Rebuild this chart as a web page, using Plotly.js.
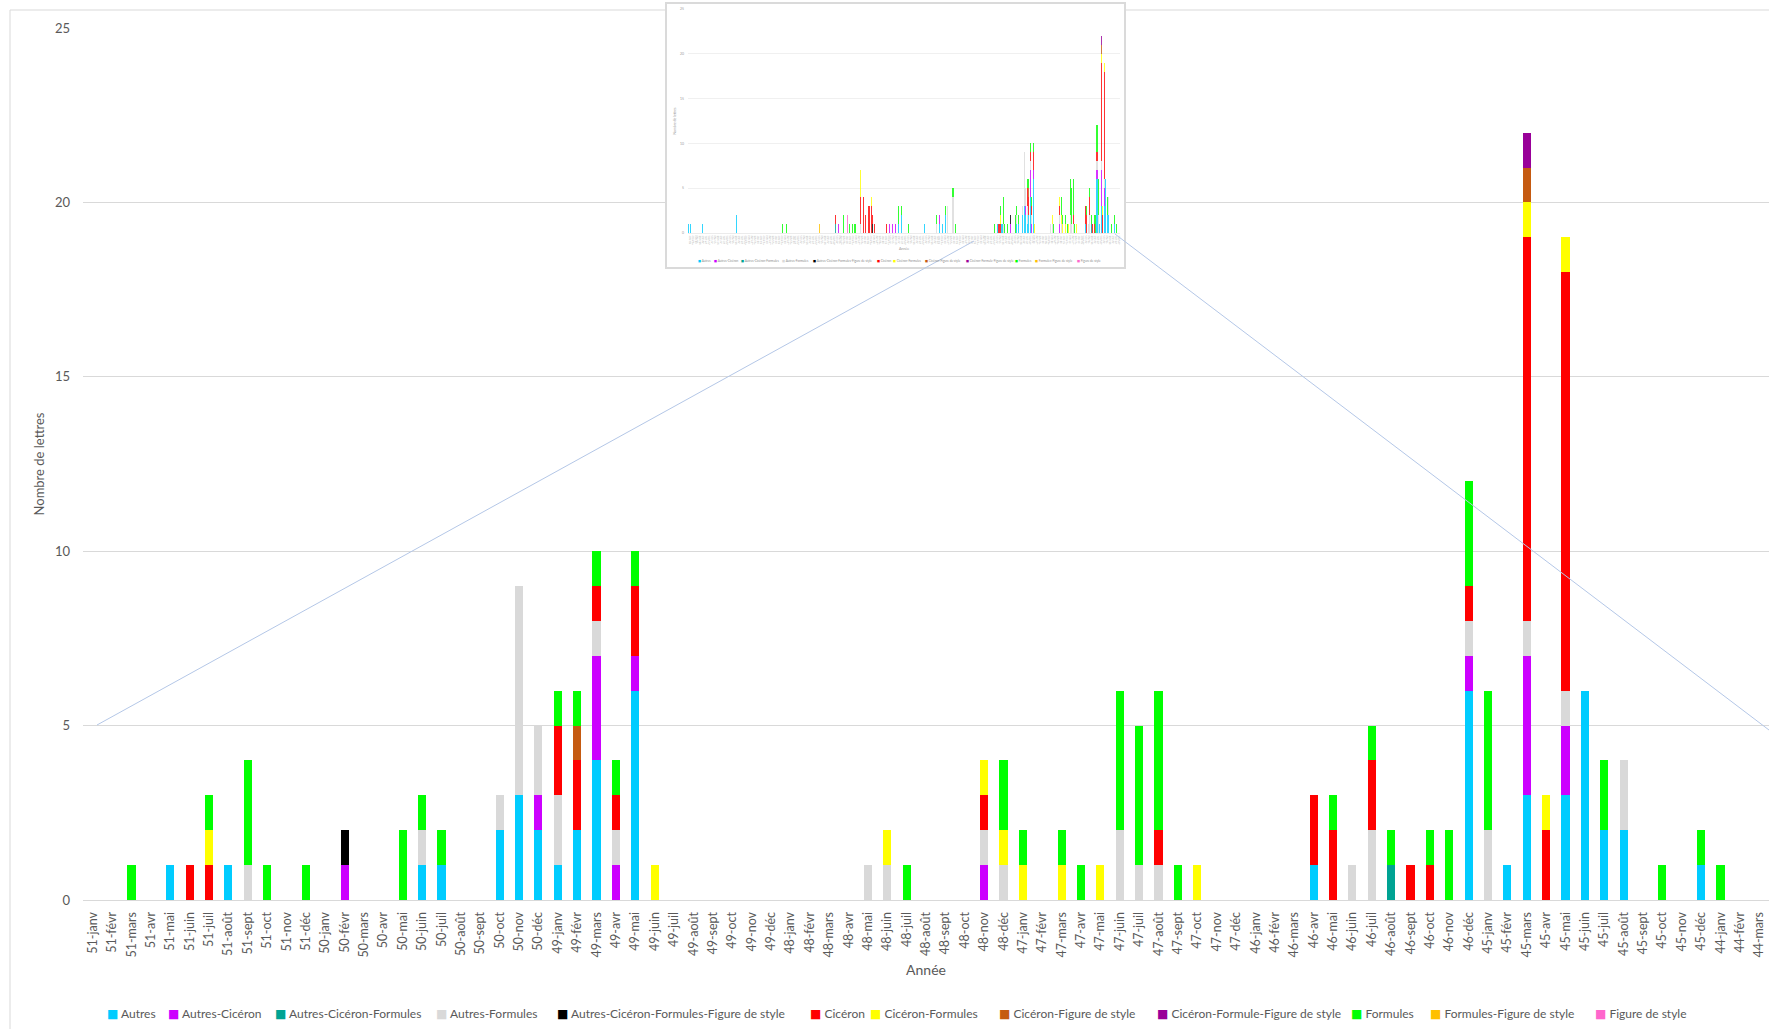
<!DOCTYPE html>
<html>
<head>
<meta charset="utf-8">
<script src="https://cdn.plot.ly/plotly-3.0.1.min.js"></script>
<style>
html,body{margin:0;padding:0;background:#fff;}
#main,#inset{position:absolute;left:0;top:0;width:1769px;height:1029px;}
#inset{pointer-events:none;}
</style>
</head>
<body>
<div id="main"></div>
<div id="inset"></div>
<script>
// ---------- categories (main chart) ----------
const categories = [
 '51-janv','51-févr','51-mars','51-avr','51-mai','51-juin','51-juil','51-août','51-sept','51-oct','51-nov','51-déc',
 '50-janv','50-févr','50-mars','50-avr','50-mai','50-juin','50-juil','50-août','50-sept','50-oct','50-nov','50-déc',
 '49-janv','49-févr','49-mars','49-avr','49-mai','49-juin','49-juil','49-août','49-sept','49-oct','49-nov','49-déc',
 '48-janv','48-févr','48-mars','48-avr','48-mai','48-juin','48-juil','48-août','48-sept','48-oct','48-nov','48-déc',
 '47-janv','47-févr','47-mars','47-avr','47-mai','47-juin','47-juil','47-août','47-sept','47-oct','47-nov','47-déc',
 '46-janv','46-févr','46-mars','46-avr','46-mai','46-juin','46-juil','46-août','46-sept','46-oct','46-nov','46-déc',
 '45-janv','45-févr','45-mars','45-avr','45-mai','45-juin','45-juil','45-août','45-sept','45-oct','45-nov','45-déc',
 '44-janv','44-févr','44-mars'
];

// ---------- series values (main chart), rows = years 51..44 ----------
const autres = [
 0,0,0,0,1,0,0,1,0,0,0,0,
 0,0,0,0,0,1,1,0,0,2,3,2,
 1,2,4,0,6,0,0,0,0,0,0,0,
 0,0,0,0,0,0,0,0,0,0,0,0,
 0,0,0,0,0,0,0,0,0,0,0,0,
 0,0,0,1,0,0,0,0,0,0,0,6,
 0,1,3,0,3,6,2,2,0,0,0,1,
 0,0,0];
const autresCiceron = [
 0,0,0,0,0,0,0,0,0,0,0,0,
 0,1,0,0,0,0,0,0,0,0,0,1,
 0,0,3,1,1,0,0,0,0,0,0,0,
 0,0,0,0,0,0,0,0,0,0,1,0,
 0,0,0,0,0,0,0,0,0,0,0,0,
 0,0,0,0,0,0,0,0,0,0,0,1,
 0,0,4,0,2,0,0,0,0,0,0,0,
 0,0,0];
const autresCiceronFormules = [
 0,0,0,0,0,0,0,0,0,0,0,0,
 0,0,0,0,0,0,0,0,0,0,0,0,
 0,0,0,0,0,0,0,0,0,0,0,0,
 0,0,0,0,0,0,0,0,0,0,0,0,
 0,0,0,0,0,0,0,0,0,0,0,0,
 0,0,0,0,0,0,0,1,0,0,0,0,
 0,0,0,0,0,0,0,0,0,0,0,0,
 0,0,0];
const autresFormules = [
 0,0,0,0,0,0,0,0,1,0,0,0,
 0,0,0,0,0,1,0,0,0,1,6,2,
 2,0,1,1,0,0,0,0,0,0,0,0,
 0,0,0,0,1,1,0,0,0,0,1,1,
 0,0,0,0,0,2,1,1,0,0,0,0,
 0,0,0,0,0,1,2,0,0,0,0,1,
 2,0,1,0,1,0,0,2,0,0,0,0,
 0,0,0];
const autresCiceronFormulesFigure = [
 0,0,0,0,0,0,0,0,0,0,0,0,
 0,1,0,0,0,0,0,0,0,0,0,0,
 0,0,0,0,0,0,0,0,0,0,0,0,
 0,0,0,0,0,0,0,0,0,0,0,0,
 0,0,0,0,0,0,0,0,0,0,0,0,
 0,0,0,0,0,0,0,0,0,0,0,0,
 0,0,0,0,0,0,0,0,0,0,0,0,
 0,0,0];
const ciceron = [
 0,0,0,0,0,1,1,0,0,0,0,0,
 0,0,0,0,0,0,0,0,0,0,0,0,
 2,2,1,1,2,0,0,0,0,0,0,0,
 0,0,0,0,0,0,0,0,0,0,1,0,
 0,0,0,0,0,0,0,1,0,0,0,0,
 0,0,0,2,2,0,2,0,1,1,0,1,
 0,0,11,2,12,0,0,0,0,0,0,0,
 0,0,0];
const ciceronFormules = [
 0,0,0,0,0,0,1,0,0,0,0,0,
 0,0,0,0,0,0,0,0,0,0,0,0,
 0,0,0,0,0,1,0,0,0,0,0,0,
 0,0,0,0,0,1,0,0,0,0,1,1,
 1,0,1,0,1,0,0,0,0,1,0,0,
 0,0,0,0,0,0,0,0,0,0,0,0,
 0,0,1,1,1,0,0,0,0,0,0,0,
 0,0,0];
const ciceronFigure = [
 0,0,0,0,0,0,0,0,0,0,0,0,
 0,0,0,0,0,0,0,0,0,0,0,0,
 0,1,0,0,0,0,0,0,0,0,0,0,
 0,0,0,0,0,0,0,0,0,0,0,0,
 0,0,0,0,0,0,0,0,0,0,0,0,
 0,0,0,0,0,0,0,0,0,0,0,0,
 0,0,1,0,0,0,0,0,0,0,0,0,
 0,0,0];
const ciceronFormuleFigure = [
 0,0,0,0,0,0,0,0,0,0,0,0,
 0,0,0,0,0,0,0,0,0,0,0,0,
 0,0,0,0,0,0,0,0,0,0,0,0,
 0,0,0,0,0,0,0,0,0,0,0,0,
 0,0,0,0,0,0,0,0,0,0,0,0,
 0,0,0,0,0,0,0,0,0,0,0,0,
 0,0,1,0,0,0,0,0,0,0,0,0,
 0,0,0];
const formules = [
 0,0,1,0,0,0,1,0,3,1,0,1,
 0,0,0,0,2,1,1,0,0,0,0,0,
 1,1,1,1,1,0,0,0,0,0,0,0,
 0,0,0,0,0,0,1,0,0,0,0,2,
 1,0,1,1,0,4,4,4,1,0,0,0,
 0,0,0,0,1,0,1,1,0,1,2,3,
 4,0,0,0,0,0,2,0,0,1,0,1,
 1,0,0];
const formulesFigure = [
 0,0,0,0,0,0,0,0,0,0,0,0,
 0,0,0,0,0,0,0,0,0,0,0,0,
 0,0,0,0,0,0,0,0,0,0,0,0,
 0,0,0,0,0,0,0,0,0,0,0,0,
 0,0,0,0,0,0,0,0,0,0,0,0,
 0,0,0,0,0,0,0,0,0,0,0,0,
 0,0,0,0,0,0,0,0,0,0,0,0,
 0,0,0];
const figureDeStyle = [
 0,0,0,0,0,0,0,0,0,0,0,0,
 0,0,0,0,0,0,0,0,0,0,0,0,
 0,0,0,0,0,0,0,0,0,0,0,0,
 0,0,0,0,0,0,0,0,0,0,0,0,
 0,0,0,0,0,0,0,0,0,0,0,0,
 0,0,0,0,0,0,0,0,0,0,0,0,
 0,0,0,0,0,0,0,0,0,0,0,0,
 0,0,0];

const seriesNames = ['Autres','Autres-Cicéron','Autres-Cicéron-Formules','Autres-Formules',
 'Autres-Cicéron-Formules-Figure de style','Cicéron','Cicéron-Formules','Cicéron-Figure de style',
 'Cicéron-Formule-Figure de style','Formules','Formules-Figure de style','Figure de style'];
const seriesColors = ['#00CCFF','#CC00FF','#00A393','#D9D9D9','#000000','#FF0000','#FFFF00',
 '#C55A11','#990099','#00FF00','#FFC000','#FF66CC'];
const seriesValues = [autres, autresCiceron, autresCiceronFormules, autresFormules,
 autresCiceronFormulesFigure, ciceron, ciceronFormules, ciceronFigure, ciceronFormuleFigure,
 formules, formulesFigure, figureDeStyle];

// ---------- inset (small overview picture): earlier months, sparse [index, value] ----------
const insetYears = ['68','67','66','65','64','63','62','61','60','59','58','57','56','55','54','53','52'];
const insetMonths = ['janv','févr','mars','avr','mai','juin','juil','août','sept','oct','nov','déc'];
const earlyAutres = [[0,1],[1,1],[9,1],[32,2],[141,1],[143,2],[159,1],[169,1],[171,1],[173,2]];
const earlyAutresCiceron = [[101,1],[135,1],[137,1],[139,1],[169,1]];
const earlyAutresCiceronFormules = [[99,1]];
const earlyAutresFormules = [[116,1],[167,1],[174,3],[178,4]];
const earlyAutresCiceronFormulesFigure = [[124,1]];
const earlyCiceron = [[99,1],[116,3],[118,4],[119,2],[121,3],[122,3],[123,3],[124,1],[125,1],[133,1]];
const earlyCiceronFormules = [[116,3],[123,1]];
const earlyCiceronFigure = [];
const earlyCiceronFormuleFigure = [];
const earlyFormules = [[63,1],[66,1],[104,2],[108,1],[110,1],[112,1],[141,2],[143,1],[148,1],[167,1],[173,1],[178,1],[180,1]];
const earlyFormulesFigure = [[88,1]];
const earlyFigureDeStyle = [[107,2]];
const earlyValues = [earlyAutres, earlyAutresCiceron, earlyAutresCiceronFormules, earlyAutresFormules,
 earlyAutresCiceronFormulesFigure, earlyCiceron, earlyCiceronFormules, earlyCiceronFigure,
 earlyCiceronFormuleFigure, earlyFormules, earlyFormulesFigure, earlyFigureDeStyle];

// ---------- styling ----------
const FONT = 'Lato, "Liberation Sans", "DejaVu Sans", sans-serif';
const W = 1769, H = 1029;
const ML = 83, MB = 129;            // main plot margins
const PW = W - ML, PH = H - MB;      // paper size of main chart
const px2x = X => (X - ML) / PW;
const px2y = Y => (PH - Y) / PH;

// legend entry positions (px) in the main chart
const legendX = [106,167,274,435,556,809,869,998,1156,1350,1429,1594];

function legendAnnots(xs, yPaper, size, sqSize, toX, color) {
  return seriesNames.map((n, i) => ({
    xref: 'paper', yref: 'paper', x: toX(xs[i]), y: yPaper,
    xanchor: 'left', yanchor: 'middle', showarrow: false, borderpad: 0,
    text: '<span style="color:' + seriesColors[i] + ';font-size:' + sqSize + 'px;font-family:DejaVu Sans">■</span> ' + n,
    font: {family: FONT, size: size, color: color}
  }));
}

// ---------- main chart ----------
const mainTraces = seriesNames.map((n, i) => ({
  type: 'bar', name: n, x: categories, y: seriesValues[i],
  marker: {color: seriesColors[i], line: {width: 0}}, hoverinfo: 'skip'
}));

const mainLayout = {
  width: W, height: H,
  margin: {l: ML, r: 0, t: 0, b: MB, pad: 0},
  paper_bgcolor: '#FFFFFF', plot_bgcolor: '#FFFFFF',
  barmode: 'stack', bargap: 0.58, showlegend: false,
  font: {family: FONT, color: '#595959'},
  xaxis: {
    type: 'category', tickmode: 'linear', tick0: 0, dtick: 1, range: [-0.5, 86.5],
    tickangle: -90, tickfont: {size: 12.5, color: '#595959'}, ticks: '',
    showgrid: false, showline: true, linecolor: '#D9D9D9', linewidth: 1, zeroline: false,
    ticklabelstandoff: 6,
    title: {text: 'Année', font: {size: 14, color: '#595959'}, standoff: 8}
  },
  yaxis: {
    domain: [0, (PH - 28) / PH], range: [0, 25], dtick: 5, tick0: 0,
    tickfont: {size: 13, color: '#595959'}, ticks: '', showline: false, zeroline: false,
    gridcolor: '#D9D9D9', gridwidth: 1, ticklabelstandoff: 12,
    title: {text: 'Nombre de lettres', font: {size: 13, color: '#595959'}, standoff: 7}
  },
  shapes: [
    {type: 'line', xref: 'paper', yref: 'paper', x0: px2x(10), x1: px2x(10), y0: px2y(10), y1: px2y(H),
     line: {color: '#D9D9D9', width: 1}},
    {type: 'line', xref: 'paper', yref: 'paper', x0: px2x(10), x1: 1, y0: px2y(10), y1: px2y(10),
     line: {color: '#D9D9D9', width: 1}}
  ],
  annotations: legendAnnots(legendX, px2y(1013), 12, 12, px2x, '#595959')
};

Plotly.newPlot('main', mainTraces, mainLayout, {staticPlot: true, displayModeBar: false});

// ---------- inset overview ----------
const insetEarlyLabels = [];
insetYears.forEach(y => insetMonths.forEach(m => insetEarlyLabels.push(y + '-' + m)));
const insetCategories = insetEarlyLabels.concat(categories);

function expandEarly(pairs) {
  const a = insetEarlyLabels.map(() => 0);
  pairs.forEach(p => { a[p[0]] = p[1]; });
  return a;
}

const insetTraces = seriesNames.map((n, i) => ({
  type: 'bar', name: n, x: insetCategories,
  y: expandEarly(earlyValues[i]).concat(seriesValues[i]),
  marker: {color: seriesColors[i], opacity: 0.8, line: {width: 0}}, hoverinfo: 'skip'
}));

const ix = X => X / W;
const iy = Y => 1 - Y / H;
const insetLegendX = legendX.map(X => 697 + (X - 106) * 0.255);

const insetLayout = {
  width: W, height: H,
  margin: {l: 0, r: 0, t: 0, b: 0, pad: 0},
  paper_bgcolor: 'rgba(0,0,0,0)', plot_bgcolor: 'rgba(0,0,0,0)',
  barmode: 'stack', bargap: 0.3, showlegend: false,
  font: {family: FONT, color: '#A0A0A0'},
  xaxis: {
    domain: [ix(688), ix(1120)], type: 'category', tickmode: 'linear', tick0: 0, dtick: 1,
    range: [-0.5, insetCategories.length - 0.5],
    tickangle: -90, tickfont: {size: 2.6, color: '#B4B4B4'}, ticks: '',
    showgrid: false, showline: true, linecolor: '#DDDDDD', linewidth: 0.6, zeroline: false,
    ticklabelstandoff: 1,
    title: {text: 'Année', font: {size: 3.6, color: '#999999'}, standoff: 3}
  },
  yaxis: {
    domain: [iy(233), iy(9)], range: [0, 25], dtick: 5,
    tickfont: {size: 3.4, color: '#999999'}, ticks: '', showline: false, zeroline: false,
    gridcolor: '#E6E6E6', gridwidth: 0.6, ticklabelstandoff: 3,
    title: {text: 'Nombre de lettres', font: {size: 3.4, color: '#999999'}, standoff: 3}
  },
  shapes: [
    {type: 'rect', xref: 'paper', yref: 'paper', layer: 'below',
     x0: ix(666), x1: ix(1125), y0: iy(268), y1: iy(3),
     fillcolor: '#FFFFFF', line: {color: '#DADADA', width: 2}},
    {type: 'line', xref: 'paper', yref: 'paper', layer: 'above',
     x0: ix(97), y0: iy(725), x1: ix(974), y1: iy(241), line: {color: '#B4C7E7', width: 1}},
    {type: 'line', xref: 'paper', yref: 'paper', layer: 'above',
     x0: ix(1115), y0: iy(234), x1: ix(1769), y1: iy(730), line: {color: '#B4C7E7', width: 1}}
  ],
  annotations: legendAnnots(insetLegendX, iy(261), 3.1, 3.2, ix, '#8C8C8C')
};

Plotly.newPlot('inset', insetTraces, insetLayout, {staticPlot: true, displayModeBar: false});
</script>
</body>
</html>
